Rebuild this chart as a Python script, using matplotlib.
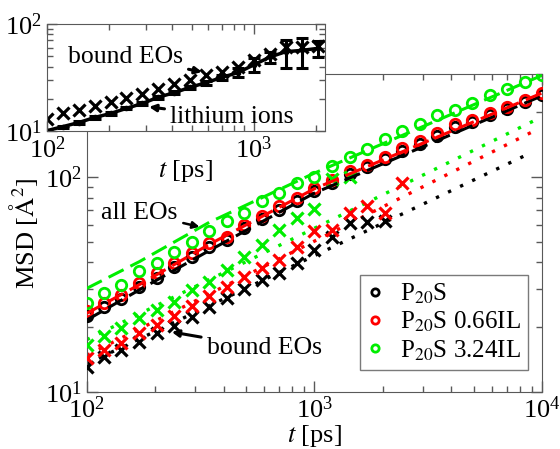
import matplotlib
matplotlib.use("Agg")
import matplotlib.pyplot as plt
from matplotlib.ticker import LogLocator, NullFormatter

plt.rcParams['font.family'] = ['Liberation Serif', 'DejaVu Serif']
plt.rcParams['mathtext.fontset'] = 'stix'

# time axis [ps], same grid for all series
t = [100, 119, 142, 170, 203, 242, 289, 345, 412, 492, 588, 702, 838, 1000,
     1194, 1426, 1702, 2032, 2427, 2897, 3460, 4132, 4934, 5891, 7035, 8400, 10000]

# all EOs (circles)
all_p20s = [22.6, 24.9, 27.0, 30.6, 34.0, 38.2, 42.3, 47.0, 50.6, 57.5, 63.4, 70.2, 76.8, 85.6,
            93.8, 102.6, 110.5, 120.5, 132, 142, 155.5, 170, 179, 193, 207, 223, 240]
all_066 = [23.7, 26.0, 28.2, 32.0, 35.6, 39.9, 44.2, 49.1, 52.7, 59.8, 65.9, 72.8, 79.6, 88.6,
           97, 106, 114, 124, 136, 146, 160, 175, 184, 198, 212, 228, 245]
all_324 = [25.9, 28.8, 31.5, 36.3, 39.7, 44.5, 50.0, 55.7, 62.0, 67.8, 76.8, 84.0, 93.5, 100,
           112, 124, 134, 149, 163, 175, 194, 205, 220, 240, 256, 275, 298]

# all EOs, full curves (dashed)
t_dash = [100, 170, 345, 1000, 10000]
dash_p20s = [21.6, 29.8, 45.4, 84, 238]
dash_066 = [23.2, 31.5, 48.5, 88, 245]
dash_324 = [30.3, 40.3, 61.4, 104, 296]

# bound EOs (crosses)
bound_p20s = [13.1, 14.6, 15.7, 17.1, 18.8, 20.3, 22.4, 24.9, 27.3, 30.1, 33.2, 35.9, 39.7, 45.7,
              52.4, 60.9, 61.4, 62.0]
bound_066 = [14.4, 15.7, 16.8, 18.8, 20.5, 22.6, 25.1, 27.8, 30.7, 34.2, 37.6, 41.1, 47.4, 55.7,
             56.6, 67.7, 72.8, 68.2, 93.4]
bound_324 = [16.6, 18.2, 19.8, 22.0, 24.1, 26.3, 29.8, 32.6, 36.9, 42.6, 48.3, 56.6, 64.3, 70.8,
             97.5, 100]

# power law fits of bound EOs (dotted), start and end
fit_t_bound = [[100, 8900], [100, 9200], [100, 9400]]
fit_bound = [[13.5, 129], [14.8, 163], [17.5, 184]]

# inset: lithium ions in P20S
li_msd = [10.1, 11.0, 12.0, 13.4, 14.6, 16.3, 18.1, 20.7, 22.8, 25.6, 28.3, 31.7, 35.1, 41.5,
          49.0, 55.0, 56.5, 59.0]
li_err = [0.2, 0.2, 0.3, 0.3, 0.4, 0.4, 0.5, 0.6, 0.8, 1.0, 1.2, 1.5, 3.5, 6.0,
          6.0, 16.0, 18.0, 10.0]

labels = ['P$_{20}$S', 'P$_{20}$S 0.66IL', 'P$_{20}$S 3.24IL']
colors = ['black', 'red', '#00ee00']

fs = 19

fig = plt.figure(figsize=(5.6, 4.49), dpi=100)
ax = fig.add_axes([0.155, 0.127, 0.813, 0.708])

all_sets = [all_p20s, all_066, all_324]
dash_sets = [dash_p20s, dash_066, dash_324]
bound_sets = [bound_p20s, bound_066, bound_324]

for i in range(3):
    ax.plot(t, all_sets[i], linestyle='none', marker='o', ms=7.5, mfc='none',
            mec=colors[i], mew=2.0, label=labels[i], zorder=3)
    ax.plot(t_dash, dash_sets[i], color=colors[i], lw=2.2, dashes=(5.5, 2.5), zorder=4)
    ax.plot(t[:len(bound_sets[i])], bound_sets[i], linestyle='none', marker='x', ms=8,
            mec=colors[i], mew=2.3, zorder=3)
    ax.plot(fit_t_bound[i], fit_bound[i], color=colors[i], lw=2.4, linestyle=(0, (1, 3)), zorder=2)

ax.set_xscale('log')
ax.set_yscale('log')
ax.set_xlim(100, 10000)
ax.set_ylim(10, 300)
ax.set_xlabel('$t$ [ps]', fontsize=fs, labelpad=0)
ax.set_ylabel('MSD [$\\mathrm{\\AA}^2$]', fontsize=fs, labelpad=4)
ax.tick_params(which='both', direction='in', top=True, right=True, labelsize=fs, colors='0.35',
               labelcolor='black')
ax.tick_params(which='major', length=8, width=1)
ax.tick_params(which='minor', length=4, width=1)
ax.xaxis.set_minor_locator(LogLocator(subs=range(2, 10)))
ax.yaxis.set_minor_locator(LogLocator(subs=range(2, 10)))
ax.xaxis.set_minor_formatter(NullFormatter())
ax.yaxis.set_minor_formatter(NullFormatter())
for s in ax.spines.values():
    s.set_color('0.35')

ax.annotate('all EOs', xy=(313, 58.5), xytext=(251, 68), fontsize=18.5, ha='right', va='center',
            arrowprops=dict(arrowstyle='-|>', color='black', lw=1.8, mutation_scale=10,
                            shrinkA=2, shrinkB=0))
ax.annotate('bound EOs', xy=(236, 19.0), xytext=(336, 16.0), fontsize=18.5, ha='left', va='center',
            arrowprops=dict(arrowstyle='-|>', color='black', lw=2.2, mutation_scale=10,
                            shrinkA=2, shrinkB=0))

leg = ax.legend(loc='lower left', bbox_to_anchor=(0.6, 0.069), fontsize=18, frameon=True,
                fancybox=False, edgecolor='0.35', handlelength=0.6, handletextpad=0.7,
                labelspacing=0.15, borderpad=0.3, borderaxespad=0, markerscale=0.7)
leg.get_frame().set_linewidth(1)

# inset
axi = fig.add_axes([0.084, 0.708, 0.496, 0.239])
axi.set_facecolor('white')
axi.plot(t[:len(bound_p20s)], bound_p20s, linestyle='none', marker='x', ms=8, mec='black', mew=2.3)
axi.errorbar(t[:len(li_msd)], li_msd, yerr=li_err, color='black', lw=2.5, marker='.', ms=6,
             capsize=4, elinewidth=2.2, capthick=2.2)
axi.set_xscale('log')
axi.set_yscale('log')
axi.set_xlim(100, 2200)
axi.set_ylim(10, 100)
axi.set_xlabel('$t$ [ps]', fontsize=fs, labelpad=-3)
axi.tick_params(which='both', direction='in', top=True, right=True, labelsize=fs, colors='0.35',
                labelcolor='black')
axi.tick_params(which='major', length=7, width=1)
axi.tick_params(which='minor', length=4, width=1)
axi.xaxis.set_minor_locator(LogLocator(subs=range(2, 10)))
axi.yaxis.set_minor_locator(LogLocator(subs=range(2, 10)))
axi.xaxis.set_minor_formatter(NullFormatter())
axi.yaxis.set_minor_formatter(NullFormatter())
for s in axi.spines.values():
    s.set_color('0.35')
axi.annotate('bound EOs', xy=(561, 35.6), xytext=(454, 49.2), fontsize=18.5, ha='right', va='center',
             arrowprops=dict(arrowstyle='-|>', color='black', lw=2.2, mutation_scale=10,
                             shrinkA=2, shrinkB=0))
axi.annotate('lithium ions', xy=(311, 16.8), xytext=(393, 13.5), fontsize=18.5, ha='left', va='center',
             arrowprops=dict(arrowstyle='-|>', color='black', lw=2.2, mutation_scale=10,
                             shrinkA=2, shrinkB=0))

fig.savefig('out.png', dpi=100)
